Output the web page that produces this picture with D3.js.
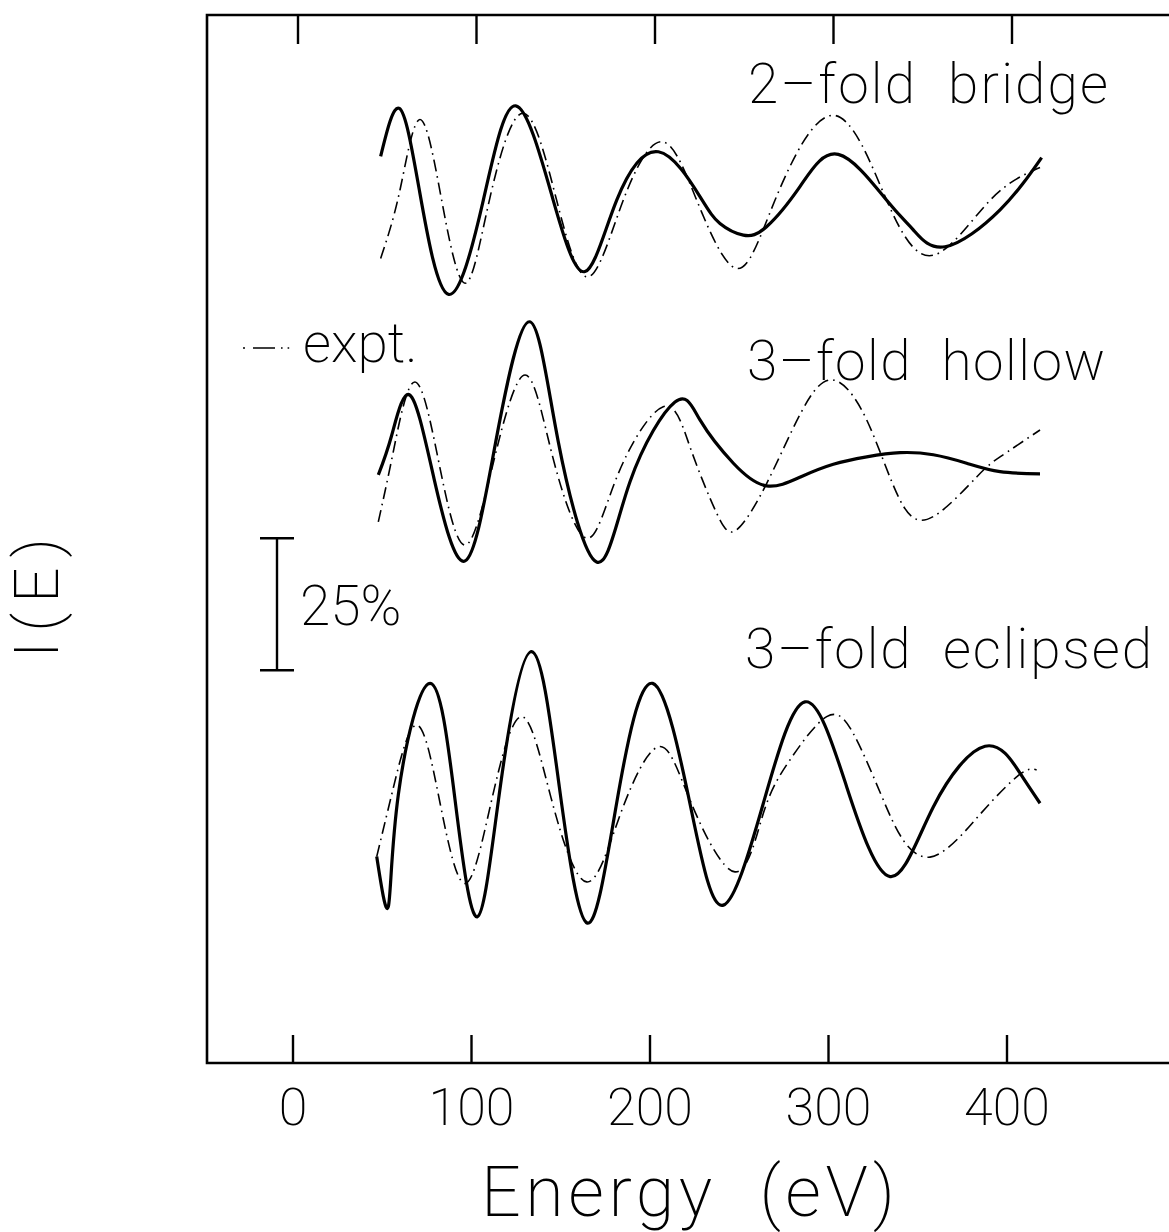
<!DOCTYPE html>
<html>
<head>
<meta charset="utf-8">
<script src="https://cdn.jsdelivr.net/npm/d3@7"></script>
<style>
  html, body { margin: 0; padding: 0; background: #fff; }
  svg { display: block; }
  text { font-family: Roboto, "Open Sans", "DejaVu Sans", sans-serif; font-weight: 200; fill: #000; white-space: pre; }
</style>
</head>
<body>
<svg id="chart" width="1169" height="1232"></svg>
<script>
// ---------------- data (Energy in eV, I(E) in % units, curves offset vertically) ----------------
const xTickValues = [0, 100, 200, 300, 400];
const xTickLabels = ["0", "100", "200", "300", "400"];
const panelLabels = ["2–fold  bridge", "3–fold  hollow", "3–fold  eclipsed"];
const legendLabel = "expt.";
const scaleBarLabel = "25%";
const scaleBarPercent = 25;
const scaleBarBase = 74.4;

const bridgeCalc = [[49.1,171.7],[59.6,180.8],[70.8,165.3],[87.0,145.6],[106.6,163.4],[124.8,181.3],[145.8,163.4],[163.6,149.9],[181.3,163.4],[204.7,172.6],[228.0,164.1],[239.2,159.0],[252.3,156.8],[265.3,158.4],[284.0,166.0],[305.5,172.1],[332.6,163.4],[347.5,157.8],[365.3,154.6],[396.1,161.6],[419.4,171.5]];
const bridgeExpt = [[49.1,152.4],[59.9,165.3],[71.1,178.7],[83.3,163.4],[96.4,147.7],[110.0,163.4],[128.9,179.9],[147.7,163.4],[165.4,148.9],[185.0,163.4],[206.6,174.5],[226.2,163.4],[248.6,150.5],[270.0,163.4],[302.7,179.5],[332.6,163.4],[358.7,153.0],[390.5,163.4],[418.5,169.6]];

const hollowCalc = [[47.8,111.4],[55.3,118.9],[65.5,126.5],[79.0,110.7],[96.4,95.1],[113.6,117.7],[132.4,140.4],[148.6,117.7],[170.1,94.9],[188.8,110.1],[214.0,125.2],[228.0,121.8],[246.7,113.6],[265.4,109.3],[284.3,111.0],[302.7,113.4],[321.4,114.8],[340.1,115.6],[358.7,115.2],[377.4,113.6],[396.1,112.0],[418.5,111.6]];
const hollowExpt = [[47.8,102.5],[56.2,115.8],[68.3,129.0],[81.8,113.6],[96.4,98.1],[112.6,114.2],[130.0,130.3],[145.5,114.8],[164.5,99.4],[182.3,111.7],[207.4,124.3],[222.4,116.7],[237.4,104.1],[248.6,101.0],[265.4,109.8],[284.3,123.0],[301.8,129.4],[321.4,121.8],[340.1,106.6],[358.7,103.5],[383.0,111.0],[396.1,114.8],[418.5,119.9]];

const eclipsedCalc = [[46.9,39.1],[53.4,29.6],[59.0,50.8],[76.8,71.9],[90.8,49.8],[103.3,27.7],[116.4,53.0],[133.7,77.9],[149.2,52.3],[164.9,26.5],[181.3,49.2],[201.5,71.9],[223.4,47.5],[241.1,29.9],[263.5,49.2],[286.8,68.4],[310.2,52.3],[334.5,35.3],[358.7,48.5],[387.7,60.0],[407.3,54.9],[418.5,49.2]];
const eclipsedExpt = [[46.9,39.1],[55.9,51.7],[69.3,64.0],[82.4,49.2],[96.4,34.0],[111.3,49.8],[128.1,65.6],[144.9,49.8],[164.5,34.3],[183.6,47.3],[204.7,59.9],[222.4,49.8],[247.6,36.2],[263.5,47.3],[278.4,57.4],[299.0,65.6],[313.9,62.4],[329.1,51.1],[341.9,42.2],[356.9,39.0],[373.7,42.9],[388.6,48.5],[407.3,54.7],[416.6,55.5]];

const calcSeries = [bridgeCalc, hollowCalc, eclipsedCalc];
const exptSeries = [bridgeExpt, hollowExpt, eclipsedExpt];

// ---------------- layout ----------------
const svg = d3.select("#chart");
const W = 1169, H = 1232;
const frame = { left: 207, top: 15, bottom: 1063 };

const x = d3.scaleLinear().domain([0, 400]).range([293, 1007]);
const y = d3.scaleLinear().domain([0, 198.5]).range([frame.bottom, frame.top]);

const g = svg.append("g");
g.append("path")
  .attr("d", `M${W},${frame.top} L${frame.left},${frame.top} L${frame.left},${frame.bottom} L${W},${frame.bottom}`)
  .attr("fill", "none").attr("stroke", "#000").attr("stroke-width", 2.6);

g.selectAll(".tb").data(xTickValues).enter().append("line")
  .attr("x1", d => x(d)).attr("x2", d => x(d))
  .attr("y1", frame.bottom).attr("y2", frame.bottom - 28)
  .attr("stroke", "#000").attr("stroke-width", 2.4);
g.selectAll(".tt").data(xTickValues).enter().append("line")
  .attr("x1", d => x(d) + 5).attr("x2", d => x(d) + 5)
  .attr("y1", frame.top).attr("y2", frame.top + 29)
  .attr("stroke", "#000").attr("stroke-width", 2.4);

g.selectAll(".tl").data(xTickValues).enter().append("text")
  .attr("x", d => x(d)).attr("y", 1125)
  .attr("text-anchor", "middle")
  .attr("font-size", 52)
  .text((d, i) => xTickLabels[i]);

g.append("text").attr("x", 481).attr("y", 1216)
  .attr("font-size", 70).attr("textLength", 414).attr("lengthAdjust", "spacing")
  .text("Energy  (eV)");
g.append("text").attr("transform", "translate(58,658) rotate(-90)")
  .attr("font-size", 62).attr("textLength", 120).attr("lengthAdjust", "spacing")
  .text("I(E)");

const line = d3.line().x(d => x(d[0])).y(d => y(d[1])).curve(d3.curveNatural);
const dash = "12,5,1.6,5";

g.selectAll(".expt").data(exptSeries).enter().append("path")
  .attr("d", line).attr("fill", "none").attr("stroke", "#000")
  .attr("stroke-width", 1.6).attr("stroke-dasharray", dash);
g.selectAll(".calc").data(calcSeries).enter().append("path")
  .attr("d", line).attr("fill", "none").attr("stroke", "#000")
  .attr("stroke-width", 3.2).attr("stroke-linejoin", "round");

const labelPos = [[748, 103, 360], [747, 380, 358], [745, 668, 407]];
g.selectAll(".pl").data(panelLabels).enter().append("text")
  .attr("x", (d, i) => labelPos[i][0]).attr("y", (d, i) => labelPos[i][1])
  .attr("textLength", (d, i) => labelPos[i][2]).attr("lengthAdjust", "spacing")
  .attr("font-size", 55).text(d => d);

g.append("line").attr("x1", 243).attr("x2", 300).attr("y1", 348).attr("y2", 348)
  .attr("stroke", "#000").attr("stroke-width", 1.6).attr("stroke-dasharray", "2,8,22,6,1.6,5,1.6,40");
g.append("text").attr("x", 303).attr("y", 362).attr("font-size", 55).text(legendLabel);

const barX = 277;
const yb0 = y(scaleBarBase), yb1 = y(scaleBarBase + scaleBarPercent);
g.append("line").attr("x1", barX).attr("x2", barX).attr("y1", yb0).attr("y2", yb1)
  .attr("stroke", "#000").attr("stroke-width", 2.4);
[yb0, yb1].forEach(yy => g.append("line").attr("x1", barX - 17).attr("x2", barX + 17)
  .attr("y1", yy).attr("y2", yy).attr("stroke", "#000").attr("stroke-width", 2.4));
g.append("text").attr("x", 300).attr("y", 625).attr("font-size", 55).text(scaleBarLabel);
</script>
</body>
</html>
